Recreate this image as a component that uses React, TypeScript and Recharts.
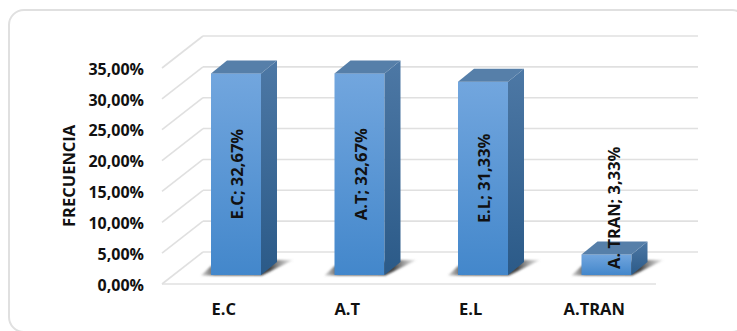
import { BarChart, Bar, XAxis, YAxis, CartesianGrid, LabelList } from 'recharts';

const categories = ['E.C', 'A.T', 'E.L', 'A.TRAN'];
const labelNames = ['E.C', 'A.T', 'E.L', 'A. TRAN'];
const percentages = [32.67, 32.67, 31.33, 3.33];
const yTicks = [0, 5, 10, 15, 20, 25, 30, 35];

const chartData = categories.map((category, i) => ({
  category,
  labelName: labelNames[i],
  percentage: percentages[i],
}));

const FONT = '"Open Sans", sans-serif';
const GRID_COLOR = '#e0e0e0';

// 3D projection of the chart box
const WALL_DX = 41;
const WALL_DY = 32;
const WALL_OVERHANG = 42;
const BAR_DX = 12;
const BAR_DY = 9;
const CAP_DX = 16;
const CAP_DY = 13;

const formatPct = (value: number) => `${value.toFixed(2).replace('.', ',')}%`;

// Floor/wall lines for one tick: side wall diagonal plus the back wall line
function WallLine(props: any) {
  const { x1, x2, y1, index } = props;
  const backY = y1 - WALL_DY;
  return (
    <g key={`wall-${index}`} stroke={GRID_COLOR} strokeWidth={1.6} fill="none">
      <line x1={x1} y1={y1} x2={x1 + WALL_DX} y2={backY} />
      <line x1={x1 + WALL_DX} y1={backY} x2={x2 + WALL_OVERHANG} y2={backY} />
      {index === 0 && <line x1={x1} y1={y1} x2={x2} y2={y1} />}
    </g>
  );
}

function Box3D(props: any) {
  const { x, y, width, height } = props;
  const left = x + BAR_DX;
  const right = left + width;
  const top = y - BAR_DY;
  const bottom = top + height;
  return (
    <g>
      <polygon
        points={`${left - 10},${bottom + 0.5} ${right + 1},${bottom + 0.5} ${right + 32},${bottom - 15} ${right + 16},${bottom - 15} ${left},${bottom - 9}`}
        fill="url(#floorShadow)"
        filter="url(#softEdge)"
      />
      <rect x={left} y={top} width={width} height={height} fill="url(#barFront)" />
      <polygon
        points={`${right},${top} ${right + CAP_DX},${top - CAP_DY} ${right + CAP_DX},${bottom - CAP_DY} ${right},${bottom}`}
        fill="url(#barSide)"
      />
      <polygon
        points={`${left},${top} ${left + CAP_DX},${top - CAP_DY} ${right + CAP_DX},${top - CAP_DY} ${right},${top}`}
        fill="#567fa9"
      />
    </g>
  );
}

// Rotated data label; short bars get theirs anchored at the base so it runs above the box
function BarLabel(props: any) {
  const { x, y, width, height, index } = props;
  const row = chartData[index];
  const text = `${row.labelName}; ${formatPct(row.percentage)}`;
  const short = height < 60;
  const cx = x + BAR_DX + width / 2 + (short ? 7 : 1);
  const cy = short ? y - BAR_DY + height - 6 : y - BAR_DY + height / 2;
  return (
    <text
      x={cx}
      y={cy}
      transform={`rotate(-90 ${cx} ${cy})`}
      textAnchor={short ? 'start' : 'middle'}
      dominantBaseline="central"
      fontFamily={FONT}
      fontSize={16.5}
      fontWeight={700}
      fill="#111"
    >
      {text}
    </text>
  );
}

export default function App() {
  return (
    <div style={{ position: 'absolute', left: 0, top: 0, width: 737, height: 331, overflow: 'hidden', background: '#fff' }}>
      <div
        style={{
          position: 'absolute',
          left: 8,
          top: 9,
          width: 740,
          height: 324,
          border: `2px solid ${GRID_COLOR}`,
          borderRadius: 16,
          boxSizing: 'border-box',
        }}
      />
      <div style={{ position: 'absolute', left: 0, top: 0 }}>
        <BarChart
          width={737}
          height={331}
          data={chartData}
          barSize={50}
          margin={{ top: 68, right: 81, bottom: 17, left: 70 }}
        >
          <defs>
            <linearGradient id="barFront" x1="0" y1="0" x2="0" y2="1">
              <stop offset="0%" stopColor="#72a6de" />
              <stop offset="100%" stopColor="#4387cb" />
            </linearGradient>
            <linearGradient id="barSide" x1="0" y1="0" x2="0" y2="1">
              <stop offset="0%" stopColor="#4d78a5" />
              <stop offset="100%" stopColor="#2b5a88" />
            </linearGradient>
            <linearGradient id="floorShadow" x1="0" y1="0" x2="1" y2="0">
              <stop offset="0%" stopColor="#777" stopOpacity={0.3} />
              <stop offset="15%" stopColor="#555" />
              <stop offset="75%" stopColor="#444" />
              <stop offset="100%" stopColor="#999" stopOpacity={0.2} />
            </linearGradient>
            <filter id="softEdge" x="-10%" y="-30%" width="120%" height="160%">
              <feGaussianBlur stdDeviation="0.8" />
            </filter>
          </defs>
          <CartesianGrid vertical={false} horizontal={(p: any) => <WallLine {...p} />} />
          <XAxis
            dataKey="category"
            axisLine={false}
            tickLine={false}
            height={30}
            tickMargin={13}
            tick={{ fontFamily: FONT, fontSize: 16.5, fontWeight: 700, fill: '#111' }}
          />
          <YAxis
            domain={[0, 35]}
            ticks={yTicks}
            width={92}
            axisLine={false}
            tickLine={false}
            tickSize={0}
            tickMargin={18}
            tickFormatter={formatPct}
            tick={{ fontFamily: FONT, fontSize: 16, fontWeight: 700, fill: '#111', dy: 1 }}
            label={{
              value: 'FRECUENCIA',
              angle: -90,
              position: 'insideLeft',
              dx: -6,
              dy: 51,
              style: { fontFamily: FONT, fontSize: 16.5, fontWeight: 700, fill: '#111' },
            }}
          />
          <Bar dataKey="percentage" shape={<Box3D />} isAnimationActive={false}>
            <LabelList dataKey="percentage" content={(p: any) => <BarLabel {...p} />} />
          </Bar>
        </BarChart>
      </div>
    </div>
  );
}
